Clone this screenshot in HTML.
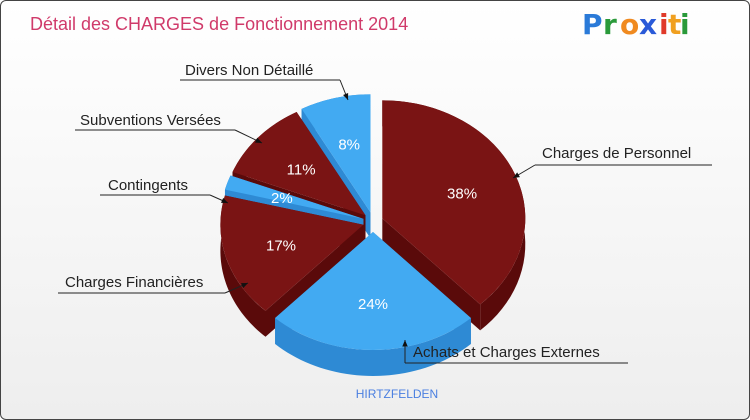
<!DOCTYPE html>
<html><head><meta charset="utf-8"><style>
body{margin:0;width:750px;height:420px;overflow:hidden;font-family:"Liberation Sans",sans-serif}
#wrap{position:absolute;left:0;top:0;width:748px;height:418px;border:1px solid #444;border-radius:6px;background:linear-gradient(#ffffff,#eeeeee)}
</style></head><body>
<div id="wrap">
<svg id="svg" width="750" height="420" style="position:absolute;left:-1px;top:-1px">
<text x="30" y="30" font-size="18" fill="#d03a6a">Détail des CHARGES de Fonctionnement 2014</text>
<g font-size="28" font-weight="bold" font-family="'DejaVu Sans',sans-serif">
<text x="582" y="34" fill="#2a7ad8">P</text><text x="603" y="34" fill="#2a9a3a">r</text><text x="620" y="34" fill="#f08a20">o</text><text x="639" y="34" fill="#2a5ad8">x</text><text x="659" y="34" fill="#e03a2a">i</text><text x="668" y="34" fill="#f0a020">t</text><text x="680" y="34" fill="#2a9a3a">i</text>
</g>
<g id="walls"></g><g id="tops"></g><g id="labels"></g>
<text x="397" y="398" font-size="12" fill="#4a7fe0" text-anchor="middle">HIRTZFELDEN</text>
</svg></div>
<script>
const categories=["Charges de Personnel","Achats et Charges Externes","Charges Financières","Contingents","Subventions Versées","Divers Non Détaillé"];
const values=[38,24,17,2,11,8];
const colorsTop=["#7a1414","#42aaf2","#7a1414","#42aaf2","#7a1414","#42aaf2"];
const colorsSide=["#5a0a0a","#2e8ad4","#5a0a0a","#2e8ad4","#5a0a0a","#2e8ad4"];
const labelPos=[[542,158,535,712,165,513,178],[413,357,405,628,363,405,340],[65,287,58,225,293,248,283],[108,190,100,210,195,228,203],[80,125,75,235,130,262,143],[185,75,180,340,80,348,100]];
const NS="http://www.w3.org/2000/svg";
const cx=373,cy=222,rx=143,ry=118,depth=26,expl=10;
const total=values.reduce((a,b)=>a+b,0);
function pt(x,y,a,r){return [x+rx*r*Math.cos(a),y+ry*r*Math.sin(a)];}
function mk(tag,attrs,parent){const e=document.createElementNS(NS,tag);for(const k in attrs)e.setAttribute(k,attrs[k]);parent.appendChild(e);return e;}
const walls=document.getElementById('walls'),tops=document.getElementById('tops'),labels=document.getElementById('labels');
let a0=-Math.PI/2;
const slices=[];
values.forEach((v,i)=>{const a1=a0+v/total*2*Math.PI;const m=(a0+a1)/2;const ox=cx+expl*Math.cos(m),oy=cy+expl*Math.sin(m);slices.push({i,a0,a1,m,ox,oy});a0=a1;});
slices.slice().sort((p,q)=>Math.sin(p.m)-Math.sin(q.m)).forEach(s=>{
 const {ox,oy,a0,a1,i}=s;const N=40;
 [a0,a1].forEach(a=>{const p=pt(ox,oy,a,1);const f=mk('path',{d:`M${ox},${oy}L${p[0]},${p[1]}L${p[0]},${p[1]+depth}L${ox},${oy+depth}Z`,fill:colorsSide[i]},walls);
 });
 let top=[],bot=[];for(let k=0;k<=N;k++){const a=a0+(a1-a0)*k/N;const p=pt(ox,oy,a,1);top.push(p);bot.push([p[0],p[1]+depth]);}
 let w="M"+top.map(p=>p.join(",")).join("L")+"L"+bot.reverse().map(p=>p.join(",")).join("L")+"Z";
 const e=mk('path',{d:w,fill:colorsSide[i]},walls);
 
});
slices.forEach(s=>{
 const {ox,oy,a0,a1,m,i}=s;const p0=pt(ox,oy,a0,1),p1=pt(ox,oy,a1,1);const large=(a1-a0)>Math.PI?1:0;
 const e=mk('path',{d:`M${ox},${oy}L${p0[0]},${p0[1]}A${rx},${ry} 0 ${large} 1 ${p1[0]},${p1[1]}Z`,fill:colorsTop[i]},tops);
 
 
 const lp=pt(ox,oy,m,0.6);
 const t=mk('text',{x:lp[0],y:lp[1]+6,'font-size':15,fill:'#fff','text-anchor':'middle'},labels);
 t.textContent=values[i]+"%";
 
 
 const L=labelPos[i];
 const tx=mk('text',{x:L[0],y:L[1],'font-size':15,fill:'#222'},labels);tx.textContent=categories[i];
 
 
 const leftSide=L[3]<cx;
 const sx=leftSide?L[3]:L[2];
 const ln=mk('polyline',{points:`${L[2]},${L[4]} ${L[3]},${L[4]}`,stroke:'#222',fill:'none','stroke-width':1},labels);
 
 
 const ld=mk('line',{x1:sx,y1:L[4],x2:L[5],y2:L[6],stroke:'#222','stroke-width':1},labels);
 
 
 const ang=Math.atan2(L[6]-L[4],L[5]-sx);const h=7;
 const ar=mk('polygon',{points:`${L[5]},${L[6]} ${L[5]-h*Math.cos(ang-0.4)},${L[6]-h*Math.sin(ang-0.4)} ${L[5]-h*Math.cos(ang+0.4)},${L[6]-h*Math.sin(ang+0.4)}`,fill:'#111'},labels);
 
 
});
</script>
</body></html>
